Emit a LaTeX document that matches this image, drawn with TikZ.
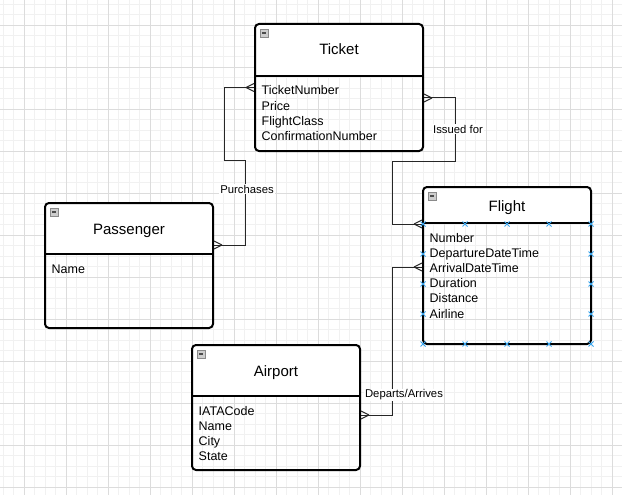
\documentclass[tikz,border=0pt]{standalone}
\usepackage{fontspec}
\setmainfont{Liberation Sans}
\definecolor{gridminor}{HTML}{F1F1F1}
\definecolor{gridmajor}{HTML}{DCDCDC}
\definecolor{markblue}{HTML}{3AA6EE}
\definecolor{iconfill}{HTML}{CDCDCD}
\definecolor{iconline}{HTML}{8A8A8A}
\begin{document}
\begin{tikzpicture}[x=1pt,y=-1pt,
  entity/.style={draw=black, line width=2pt, rounded corners=4pt, minimum width=168pt, inner sep=0pt},
  header/.style={path picture={\fill[white] (path picture bounding box.north west) rectangle ([yshift=-#1pt]path picture bounding box.north east);}},
  sepline/.style={draw=black, line width=2pt},
  titletext/.style={font=\fontsize{15}{18}\selectfont, anchor=base, inner sep=0pt},
  attr/.style={font=\fontsize{12.5}{15}\selectfont, anchor=base west, inner sep=0pt},
  conn/.style={draw=black!85, line width=1pt},
  lbl/.style={font=\fontsize{11.3}{13}\selectfont, fill=white, inner sep=1pt},
  iconbox/.style={fill=iconfill, draw=iconline, line width=0.8pt},
  iconminus/.style={draw=black!70, line width=1.3pt},
  mk/.style={draw=markblue, line width=1pt},
  crow/.pic={\draw[conn] (-8,0) -- (0,-4) (-8,0) -- (0,4);}
]
\useasboundingbox (0,0) rectangle (622,495);
\fill[white] (0,0) rectangle (622,495);
% grid
\foreach \i in {0,...,58} \draw[gridminor, line width=0.8pt] ({3+10.5*\i},0) -- ({3+10.5*\i},495);
\foreach \i in {0,...,46} \draw[gridminor, line width=0.8pt] (0,{4+10.5*\i}) -- (622,{4+10.5*\i});
\foreach \i in {0,...,14} \draw[gridmajor, line width=0.9pt] ({24+42*\i},0) -- ({24+42*\i},495);
\foreach \i in {0,...,11} \draw[gridmajor, line width=0.9pt] (0,{25+42*\i}) -- (622,{25+42*\i});

% entities
\node[entity, header=53, minimum height=127pt] (ticket) at (339,87.5) {};
\node[entity, header=52, minimum height=125pt] (passenger) at (129,265.5) {};
\node[entity, header=37, minimum height=157pt] (flight) at (507,265.5) {};
\node[entity, header=52, minimum height=125pt] (airport) at (276,407.5) {};

\draw[sepline] ([yshift=-53pt]ticket.north west) -- ([yshift=-53pt]ticket.north east);
\draw[sepline] ([yshift=-52pt]passenger.north west) -- ([yshift=-52pt]passenger.north east);
\draw[sepline] ([yshift=-37pt]flight.north west) -- ([yshift=-37pt]flight.north east);
\draw[sepline] ([yshift=-52pt]airport.north west) -- ([yshift=-52pt]airport.north east);

% icons
\foreach \b in {ticket,passenger,flight,airport}{
  \draw[iconbox] ([shift={(6,6)}]\b.north west) rectangle ([shift={(14,14)}]\b.north west);
  \draw[iconminus] ([shift={(8,10)}]\b.north west) -- ([shift={(12,10)}]\b.north west);
}

% titles
\node[titletext] (tticket) at (339,55) {Ticket};
\node[titletext] (tpassenger) at (129,234.3) {Passenger};
\node[titletext] (tflight) at (507,211) {Flight};
\node[titletext] (tairport) at (276,376.5) {Airport};

% attributes
\foreach \t [count=\i] in {TicketNumber,Price,FlightClass,ConfirmationNumber}
  \node[attr] (ta\i) at (261.5,{95+15.1*(\i-1)}) {\t};
\node[attr] (pa1) at (51.5,273.5) {Name};
\foreach \t [count=\i] in {Number,DepartureDateTime,ArrivalDateTime,Duration,Distance,Airline}
  \node[attr] (fa\i) at (429.5,{242.5+15.1*(\i-1)}) {\t};
\foreach \t [count=\i] in {IATACode,Name,City,State}
  \node[attr] (aa\i) at (198.5,{415.5+15.1*(\i-1)}) {\t};

% connectors
\draw[conn] (ticket.west) -- (224,87.5) -- (224,160) -- (245,160) -- (245,245) -- ([yshift=20.5pt]passenger.east);
\pic at (ticket.west) {crow};
\pic[rotate=180] at ([yshift=20.5pt]passenger.east) {crow};
\node[lbl] (lpurch) at (247,189) {Purchases};

\draw[conn] ([yshift=-10.5pt]ticket.east) -- (455,98) -- (455,161) -- (392,161) -- (392,224) -- ([yshift=41.5pt]flight.west);
\pic[rotate=180] at ([yshift=-10.5pt]ticket.east) {crow};
\pic at ([yshift=41.5pt]flight.west) {crow};
\node[lbl] (lissued) at (458,129) {Issued for};

\draw[conn] ([yshift=-1.5pt]flight.west) -- (392,267) -- (392,415) -- ([yshift=-7.5pt]airport.east);
\pic at ([yshift=-1.5pt]flight.west) {crow};
\pic[rotate=180] at ([yshift=-7.5pt]airport.east) {crow};
\node[lbl] (ldep) at (404,395) {Departs/Arrives};

% selection markers on Flight
\foreach \x in {423,465,507,549,591}
  \foreach \y in {224,344}
    \draw[mk] ({\x-2.5},{\y-2.5}) -- ({\x+2.5},{\y+2.5}) ({\x-2.5},{\y+2.5}) -- ({\x+2.5},{\y-2.5});
\foreach \x in {423,591}
  \foreach \y in {254,284,314}
    \draw[mk] ({\x-2.5},{\y-2.5}) -- ({\x+2.5},{\y+2.5}) ({\x-2.5},{\y+2.5}) -- ({\x+2.5},{\y-2.5});
\end{tikzpicture}
\end{document}
